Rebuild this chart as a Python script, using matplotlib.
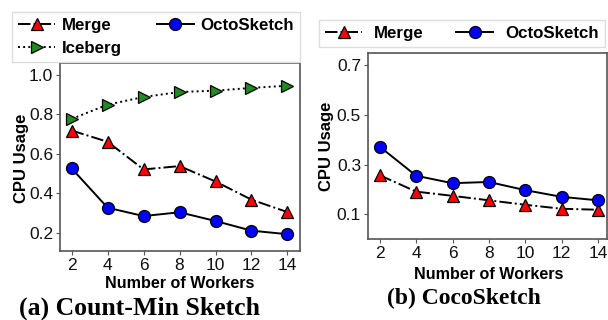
import matplotlib
matplotlib.use("Agg")
import matplotlib.pyplot as plt

# data
workers = [2, 4, 6, 8, 10, 12, 14]

cm_merge = [0.717, 0.660, 0.520, 0.537, 0.459, 0.367, 0.304]
cm_octo = [0.525, 0.326, 0.284, 0.303, 0.259, 0.210, 0.192]
cm_iceberg = [0.776, 0.848, 0.887, 0.912, 0.919, 0.933, 0.944]

coco_merge = [0.257, 0.191, 0.174, 0.156, 0.138, 0.122, 0.118]
coco_octo = [0.372, 0.255, 0.225, 0.230, 0.197, 0.170, 0.156]

plt.rcParams['font.family'] = ['Liberation Sans', 'DejaVu Sans']

fig = plt.figure(figsize=(6.08, 3.2), dpi=100)
ax1 = fig.add_axes([60 / 608, 69 / 320, 240 / 608, 188 / 320])
ax2 = fig.add_axes([368 / 608, 81 / 320, 239 / 608, 186 / 320])

mk = dict(markersize=8.6, markeredgecolor='black', markeredgewidth=0.9, color='black', linewidth=1.4)

l_merge, = ax1.plot(workers, cm_merge, linestyle='-.', marker='^', markerfacecolor='#ff0000', label='Merge', **mk)
l_ice, = ax1.plot(workers, cm_iceberg, linestyle=':', marker='>', markerfacecolor='#1e8c1e', label='Iceberg', **mk)
l_octo, = ax1.plot(workers, cm_octo, linestyle='-', marker='o', markerfacecolor='#0000ff', label='OctoSketch', **mk)

r_merge, = ax2.plot(workers, coco_merge, linestyle='-.', marker='^', markerfacecolor='#ff0000', label='Merge', **mk)
r_octo, = ax2.plot(workers, coco_octo, linestyle='-', marker='o', markerfacecolor='#0000ff', label='OctoSketch', **mk)

ax1.set_xlim(1.35, 14.7)
ax1.set_ylim(0.107, 1.059)
ax1.set_yticks([0.2, 0.4, 0.6, 0.8, 1.0])
ax2.set_xlim(1.35, 14.5)
ax2.set_ylim(0.0, 0.75)
ax2.set_yticks([0.1, 0.3, 0.5, 0.7])

for ax in (ax1, ax2):
    ax.set_xticks(workers)
    ax.tick_params(labelsize=12.5, length=3, width=0.8, pad=2, colors='#555555', labelcolor='#111111')
    for s in ax.spines.values():
        s.set_color('#555555')
        s.set_linewidth(1.2)
    ax.set_xlabel('Number of Workers', fontsize=11.6, fontweight='bold')
    ax.set_ylabel('CPU Usage', fontsize=12, fontweight='bold')

ax1.xaxis.set_label_coords(0.5, -0.135)
ax1.yaxis.set_label_coords(-0.129, 0.495)
ax2.xaxis.set_label_coords(0.505, -0.148)
ax2.yaxis.set_label_coords(-0.142, 0.5)

leg_kw = dict(prop={'weight': 'bold', 'size': 12.2}, fancybox=False, edgecolor='#dddddd',
              handlelength=2.2, markerscale=1.0, borderpad=0.35, framealpha=1, borderaxespad=0)
fig.legend([l_merge, l_ice, l_octo], ['Merge', 'Iceberg', 'OctoSketch'], ncol=2,
           loc='lower left', bbox_to_anchor=(12 / 608, 1 - 62 / 320, 288 / 608, 52 / 320),
           mode='expand', handletextpad=0.4, labelspacing=0.5, columnspacing=1.9, **leg_kw)
fig.legend([r_merge, r_octo], ['Merge', 'OctoSketch'], ncol=2,
           loc='upper left', bbox_to_anchor=(319 / 608, 1 - 20 / 320), handletextpad=0.7,
           labelspacing=0.3, columnspacing=1.9, **leg_kw)

fig.text(139.5 / 608, 5 / 320, '(a) Count-Min Sketch', ha='center', va='baseline',
         family='Liberation Serif', fontweight='bold', fontsize=18.5)
fig.text(463.5 / 608, 22 / 320, '(b) CocoSketch', ha='center', va='center',
         family='Liberation Serif', fontweight='bold', fontsize=17)

fig.savefig('out.png', dpi=100)
